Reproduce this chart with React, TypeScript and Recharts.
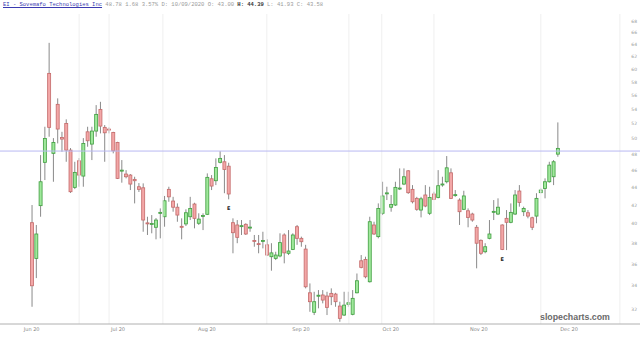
import { ComposedChart, Bar, XAxis, YAxis, ReferenceLine } from "recharts";

// daily OHLC (Jun–Dec 2020)
const opens = [
  40.12, 36.54, 41.95, 46.99, 59.32, 48.11, 54.7, 50.14, 52.03, 48.52,
  44.01, 47.18, 45.33, 50.9, 49.29, 51.0, 53.98, 51.5, 51.27, 50.82,
  49.51, 45.92, 45.57, 45.45, 44.94, 44.08, 43.96, 40.1, 39.95, 39.64,
  41.14, 40.75, 43.78, 42.46, 41.78, 39.74, 39.99, 40.75, 42.13, 40.06,
  40.77, 41.01, 45.01, 44.78, 46.99, 47.06, 46.52, 40.12, 39.88, 39.73,
  39.95, 39.58, 38.3, 37.98, 38.24, 37.86, 36.7, 36.54, 36.77, 38.85,
  37.03, 37.41, 39.7, 38.51, 37.44, 33.39, 31.73, 33.1, 33.2, 33.11,
  33.34, 33.28, 32.25, 31.5, 32.4, 31.56, 33.39, 36.31, 36.44, 34.37,
  39.88, 38.68, 41.12, 43.3, 41.78, 42.02, 43.85, 44.39, 45.96, 43.78,
  42.76, 41.47, 43.14, 41.12, 43.25, 42.86, 44.32, 44.66, 45.72, 43.1,
  42.57, 41.55, 41.39, 41.04, 39.64, 38.31, 37.18, 38.51, 41.25, 41.04,
  39.88, 40.58, 40.16, 41.04, 43.59, 41.29, 41.18, 40.64, 40.82, 43.4,
  43.89, 44.66, 45.25, 48.01,
];
const highs = [
  42.02, 39.88, 47.89, 51.58, 64.26, 50.07, 55.56, 50.9, 52.59, 48.78,
  47.06, 47.52, 50.07, 51.58, 51.58, 54.59, 55.06, 51.81, 51.5, 50.9,
  49.59, 47.27, 46.04, 45.57, 45.25, 44.51, 44.47, 40.75, 40.93, 40.61,
  41.65, 43.03, 44.08, 42.93, 42.2, 40.58, 41.55, 42.93, 42.27, 41.12,
  41.12, 45.65, 45.45, 47.48, 48.39, 47.89, 46.94, 40.58, 40.4, 40.4,
  40.06, 40.4, 38.85, 38.85, 39.18, 38.41, 38.02, 37.18, 39.02, 39.02,
  39.35, 39.02, 39.88, 38.68, 37.86, 34.22, 33.48, 33.63, 33.63, 33.48,
  33.78, 33.39, 32.62, 33.48, 33.48, 33.63, 35.12, 36.86, 36.7, 40.75,
  40.22, 42.2, 44.66, 44.08, 43.14, 44.66, 46.25, 46.25, 46.04, 44.27,
  42.93, 42.93, 44.27, 44.08, 43.51, 46.04, 45.25, 47.77, 46.25, 43.7,
  42.76, 43.62, 41.65, 41.18, 39.88, 38.4, 38.02, 40.4, 42.57, 42.76,
  39.95, 41.47, 42.2, 43.7, 44.27, 41.84, 41.47, 40.75, 43.34, 43.89,
  45.06, 47.06, 47.27, 52.17,
];
const lows = [
  32.19, 34.7, 40.75, 44.86, 50.25, 44.66, 49.38, 48.31, 47.06, 43.37,
  43.81, 44.08, 44.08, 48.95, 47.27, 50.25, 50.69, 47.06, 50.69, 48.11,
  44.98, 44.55, 45.06, 43.7, 42.2, 43.48, 39.18, 38.85, 39.02, 38.41,
  38.51, 39.7, 42.38, 41.29, 40.22, 38.41, 39.77, 40.4, 39.53, 39.88,
  39.35, 40.93, 43.7, 44.27, 46.86, 43.34, 42.65, 37.03, 38.02, 38.85,
  38.85, 39.18, 37.67, 37.03, 37.51, 36.77, 35.38, 36.38, 36.64, 36.07,
  36.86, 37.34, 37.86, 37.67, 33.78, 31.77, 31.5, 32.06, 32.48, 31.5,
  32.33, 32.19, 30.95, 31.42, 32.19, 31.48, 33.34, 35.6, 34.68, 34.3,
  38.85, 38.51, 40.93, 42.57, 41.29, 41.91, 43.7, 44.27, 43.26, 42.2,
  41.39, 40.68, 41.78, 40.93, 42.57, 42.76, 44.08, 44.47, 42.68, 42.93,
  39.88, 41.47, 39.64, 40.22, 35.6, 36.86, 37.03, 38.41, 40.4, 40.93,
  37.34, 37.34, 40.06, 40.93, 41.84, 40.82, 40.58, 39.35, 40.06, 43.34,
  42.76, 44.55, 44.27, 47.68,
];
const closes = [
  34.01, 38.95, 44.66, 50.03, 51.5, 49.51, 51.27, 49.94, 48.52, 43.51,
  45.77, 45.45, 49.38, 49.72, 51.0, 53.28, 51.67, 50.77, 51.13, 48.43,
  45.06, 46.04, 45.25, 44.39, 44.78, 43.78, 40.4, 40.02, 40.03, 40.4,
  41.22, 42.49, 42.93, 41.78, 40.93, 39.66, 41.18, 41.65, 40.58, 40.5,
  40.88, 45.18, 44.16, 46.37, 47.48, 46.12, 43.25, 39.08, 38.61, 39.81,
  38.95, 39.66, 38.24, 37.92, 38.3, 36.86, 37.07, 36.86, 38.08, 37.07,
  37.25, 38.85, 38.51, 38.17, 33.92, 32.62, 32.62, 33.18, 32.76, 32.14,
  33.05, 32.62, 31.23, 32.33, 32.53, 32.91, 34.46, 35.69, 34.82, 40.22,
  38.95, 41.65, 43.03, 43.38, 42.09, 44.01, 43.93, 45.25, 43.4, 42.38,
  41.55, 42.71, 41.91, 42.86, 42.65, 44.2, 44.4, 46.32, 42.76, 43.18,
  41.29, 43.03, 40.68, 40.4, 38.02, 37.03, 37.67, 38.95, 41.33, 41.78,
  37.41, 40.16, 41.22, 43.14, 42.31, 41.65, 40.82, 39.64, 42.76, 43.7,
  44.66, 46.65, 47.06, 48.74,
];

const earningsDays = [46, 110];
const monthLabels = ["Jun 20", "Jul 20", "Aug 20", "Sep 20", "Oct 20", "Nov 20", "Dec 20"];
const monthTicks = [0, 20.2, 41, 63, 84, 104.6, 125.7];
const gridDays = [11.1, 18.1, 30.7, 55, 74.2, 81.9, 94.1, 119.1, 137.6];
const priceTicks = [32, 34, 36, 38, 40, 42, 44, 46, 48, 50, 52, 54, 56, 58, 60, 62, 64, 66, 68];
const levelLine = 48.4;

const data = opens.map((open, i) => ({
  day: i,
  open,
  high: highs[i],
  low: lows[i],
  close: closes[i],
  range: [lows[i], highs[i]],
}));

function Candle(props: any) {
  const { x, y, width, height, payload } = props;
  if (!payload || y == null) return null;
  const top = Math.min(y, y + height);
  const span = Math.abs(height);
  const lh = Math.log(payload.high);
  const ll = Math.log(payload.low);
  // log y scale: pixel position is linear in ln(price)
  const toY = (v: number) => (lh === ll ? top : top + ((lh - Math.log(v)) / (lh - ll)) * span);
  const cx = x + width / 2;
  const up = payload.close >= payload.open;
  const bTop = toY(Math.max(payload.open, payload.close));
  const bBot = toY(Math.min(payload.open, payload.close));
  const bh = Math.max(bBot - bTop, 1);
  return (
    <g>
      <line x1={cx} x2={cx} y1={top} y2={top + span} stroke="#8a8a8a" strokeWidth={1} />
      <rect
        x={cx - 1.5}
        y={bTop}
        width={3}
        height={bh}
        fill={up ? "#9fe89b" : "#f3a7a7"}
        stroke={up ? "#3f9e3f" : "#c46a6a"}
        strokeWidth={0.8}
      />
      {earningsDays.includes(payload.day) && (
        <text x={cx} y={top + span + 11} textAnchor="middle" fontSize={5} fontWeight="bold" fill="#222" fontFamily="DejaVu Sans">
          E
        </text>
      )}
    </g>
  );
}

export default function App() {
  return (
    <div style={{ position: "absolute", left: 0, top: 0, width: 640, height: 338, background: "#fff", overflow: "hidden" }}>
      <ComposedChart width={640} height={338} data={data} margin={{ top: 14, right: 0, bottom: 0, left: 0 }}>
        <XAxis
          type="number"
          dataKey="day"
          domain={[-7.41, 142.3]}
          allowDataOverflow
          ticks={monthTicks}
          tickFormatter={(v) => monthLabels[monthTicks.indexOf(v)] ?? ""}
          tick={{ fill: "#888", fontSize: 5, fontFamily: "DejaVu Sans" }}
          axisLine={{ stroke: "#b0b0b0" }}
          tickLine={false}
          tickSize={0}
          tickMargin={3}
          height={14}
          interval={0}
        />
        <YAxis
          scale="log"
          domain={[30.77, 69.3]}
          allowDataOverflow
          orientation="right"
          mirror
          ticks={priceTicks}
          tick={{ fill: "#999", fontSize: 4.5, fontFamily: "DejaVu Sans" }}
          axisLine={false}
          tickLine={false}
          tickSize={0}
          tickMargin={3}
          interval={0}
        />
        {gridDays.map((d) => (
          <ReferenceLine key={d} x={d} stroke="#efefef" strokeWidth={1} />
        ))}
        <ReferenceLine y={levelLine} stroke="#b9b9f2" strokeWidth={1} />
        <Bar dataKey="range" barSize={3} shape={<Candle />} isAnimationActive={false} />
      </ComposedChart>
      <div
        style={{
          position: "absolute",
          left: 3,
          top: 1,
          fontFamily: "'Liberation Mono', monospace",
          fontSize: 5.5,
          lineHeight: "8px",
          whiteSpace: "pre",
          color: "#9a9a9a",
        }}
      >
        <span style={{ color: "#3a3ab0", textDecoration: "underline" }}>EI - Sovemafo Technologies Inc</span>
        {" 48.78 1.68 3.57% D: 10/09/2020 O: 43.00 "}
        <b style={{ color: "#333" }}>H: 44.39</b>
        {" L: 41.93 C: 43.58"}
      </div>
      <div
        style={{
          position: "absolute",
          left: 540,
          top: 312,
          fontFamily: "'Liberation Sans', Arial, sans-serif",
          fontSize: 8.8,
          fontWeight: "bold",
          color: "#6a6a6a",
          lineHeight: "10px",
        }}
      >
        slopecharts.com
      </div>
    </div>
  );
}
